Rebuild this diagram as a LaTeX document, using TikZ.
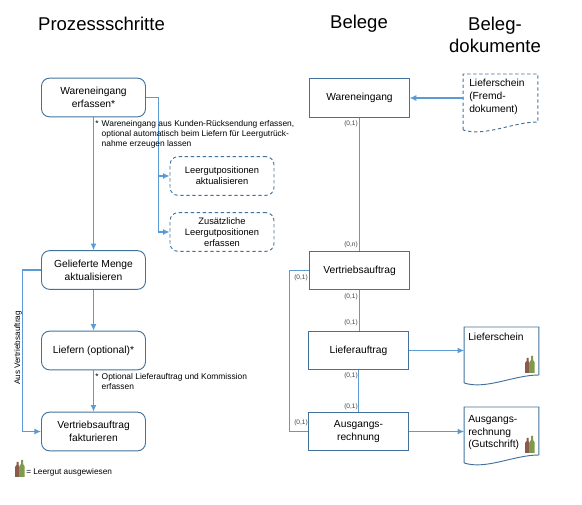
\documentclass[tikz,border=0pt]{standalone}
\usepackage{fontspec}
\setmainfont{Liberation Sans}
\usetikzlibrary{arrows.meta, calc}
\definecolor{linkblue}{HTML}{5B9BD5}
\definecolor{frameblue}{HTML}{41719C}
\definecolor{bottlered}{HTML}{8A5A4A}
\definecolor{bottlegreen}{HTML}{7F9A4A}

\newcommand{\bottles}[1]{%
  \fill[bottlegreen] ($(#1)+(4.5,0)$) -- ++(0,-11) -- ++(1.5,-2) -- ++(0,-4) -- ++(2,0) -- ++(0,4) -- ++(1.5,2) -- ++(0,11) -- cycle;
  \fill[bottlered] (#1) -- ++(0,-10) -- ++(1.5,-2) -- ++(0,-3) -- ++(2,0) -- ++(0,3) -- ++(1,2) -- ++(0,10) -- cycle;
}

\begin{document}
\begin{tikzpicture}[
    x=0.75pt, y=-0.75pt,
    stepbox/.style={draw=frameblue, line width=0.7pt, rounded corners=6pt, minimum width=78pt, minimum height=29pt, inner sep=1pt, font=\fontsize{7.7}{9.6}\selectfont, align=center},
    optbox/.style={stepbox, dash pattern=on 2.5pt off 2pt, font=\fontsize{7}{8.25}\selectfont},
    belegbox/.style={draw=frameblue, line width=0.7pt, minimum width=74.5pt, minimum height=29pt, inner sep=1pt, font=\fontsize{7.7}{9.6}\selectfont, align=center},
    docbox/.style={minimum width=56pt, inner sep=0pt, outer sep=0pt},
    doctext/.style={font=\fontsize{7.7}{9.6}\selectfont, align=left, anchor=north west, inner sep=0pt},
    docline/.style={draw=frameblue, line width=0.7pt},
    arr/.style={-{Latex[length=5pt, width=4.5pt]}, draw=linkblue, line width=0.8pt},
    link/.style={draw=linkblue, line width=0.8pt},
    heading/.style={font=\fontsize{13.9}{16.5}\selectfont, align=center},
    note/.style={font=\fontsize{6.3}{7.5}\selectfont, align=left, anchor=north west, inner sep=0pt},
    card/.style={font=\fontsize{4.9}{5.5}\selectfont, text=black!75, inner sep=0pt},
]
\useasboundingbox (0,0) rectangle (582,505);

% headings
\node[heading] (hprozess) at (101.5,24) {Prozessschritte};
\node[heading] (hbelege) at (359,24) {Belege};
\node[heading] (hdok) at (495,35) {Beleg-\\dokumente};

% process steps
\node[stepbox] (we) at (93.5,97.5) {Wareneingang\\erfassen*};
\node[optbox] (leer) at (222,176) {Leergutpositionen\\aktualisieren};
\node[optbox] (zus) at (222,232) {Zusätzliche\\Leergutpositionen\\erfassen};
\node[stepbox] (menge) at (93.5,270) {Gelieferte Menge\\aktualisieren};
\node[stepbox] (liefern) at (93.5,350.5) {Liefern (optional)*};
\node[stepbox] (faktura) at (93.5,431.5) {Vertriebsauftrag\\fakturieren};

% documents
\node[belegbox] (bwe) at (359.5,98) {Wareneingang};
\node[belegbox] (bva) at (359.5,270.5) {Vertriebsauftrag};
\node[belegbox] (bla) at (358.5,350.5) {Lieferauftrag};
\node[belegbox] (bar) at (358.5,431.5) {Ausgangs-\\rechnung};

% document shapes
\node[docbox, minimum height=42pt] (dfremd) at (500.5,102) {};
\node[docbox, minimum height=42pt] (dschein) at (501.5,355) {};
\node[docbox, minimum height=42pt] (drech) at (501.5,435) {};
\draw[docline, dash pattern=on 2.5pt off 2pt] (dfremd.south west) -- (dfremd.north west) -- (dfremd.north east) -- ($(dfremd.south east)+(0,-8)$) .. controls +(-25,0) and +(22,7) .. (dfremd.south west);
\draw[docline] (dschein.south west) -- (dschein.north west) -- (dschein.north east) -- ($(dschein.south east)+(0,-8)$) .. controls +(-25,0) and +(22,7) .. (dschein.south west);
\draw[docline] (drech.south west) -- (drech.north west) -- (drech.north east) -- ($(drech.south east)+(0,-8)$) .. controls +(-25,0) and +(22,7) .. (drech.south west);
\node[doctext] (tfremd) at (469,79) {Lieferschein\\(Fremd-\\dokument)};
\node[doctext] (tschein) at (468,333) {Lieferschein};
\node[doctext] (trech) at (468,415) {Ausgangs-\\rechnung\\(Gutschrift)};

% connectors left
\draw[arr] (we) -- (menge);
\draw[arr] (menge) -- (liefern);
\draw[arr] (liefern) -- (faktura);
\draw[arr] (we.east) -- ++(12.5,0) |- (leer.west);
\draw[arr] (we.east) -- ++(12.5,0) |- (zus.west);
\draw[arr] (menge.west) -- ++(-18.5,0) |- (faktura.west);

% connectors right
\draw[link] (bwe) -- (bva);
\draw[link] (bva) -- (bva |- bla.north);
\draw[link] (bla) -- (bar);
\draw[link] (bva.west) -- ++(-19.5,0) |- (bar.west);
\draw[arr] (dfremd.west |- bwe) -- (bwe.east);
\draw[arr] (bla.east) -- (bla -| dschein.west);
\draw[arr] (bar.east) -- (bar -| drech.west);

% notes
\node[note] (nwe) at (95,120.5) {*\hspace{2.4pt}\parbox[t]{150pt}{Wareneingang aus Kunden-Rücksendung erfassen,\\optional automatisch beim Liefern für Leergutrück-\\nahme erzeugen lassen}};
\node[note] (nlief) at (95,373) {*\hspace{2.4pt}\parbox[t]{150pt}{Optional Lieferauftrag und Kommission\\erfassen}};
\node[font=\fontsize{6.1}{8}\selectfont, rotate=90, inner sep=0pt] (naus) at (18,348) {Aus Vertriebsauftrag};
\node[font=\fontsize{6.2}{7}\selectfont, anchor=west, inner sep=0pt] (nleer) at (26,472) {= Leergut ausgewiesen};

% cardinalities
\node[card, anchor=east] (c1) at (358,124) {(0,1)};
\node[card, anchor=east] (c2) at (358,245) {(0,n)};
\node[card, anchor=east] (c3) at (358,297) {(0,1)};
\node[card, anchor=east] (c4) at (358,323) {(0,1)};
\node[card, anchor=east] (c5) at (358,376) {(0,1)};
\node[card, anchor=east] (c6) at (358,407) {(0,1)};
\node[card, anchor=east] (c7) at (308,278) {(0,1)};
\node[card, anchor=east] (c8) at (308,423) {(0,1)};

% bottles
\bottles{525,373}
\bottles{525,453}
\bottles{15,477}

\end{tikzpicture}
\end{document}
